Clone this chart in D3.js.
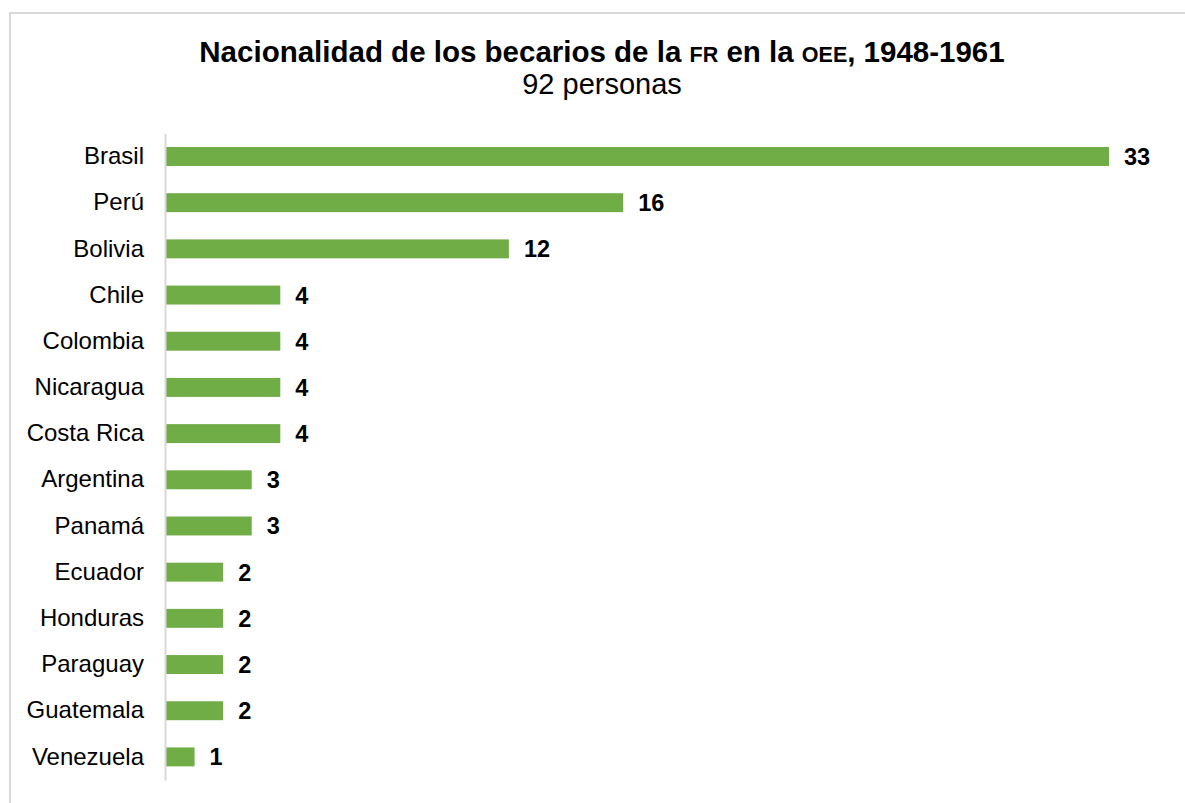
<!DOCTYPE html>
<html>
<head>
<meta charset="utf-8">
<script src="https://cdn.jsdelivr.net/npm/d3@7"></script>
<style>
  body { margin: 0; background: #fff; }
  svg { display: block; font-family: Arial, "Liberation Sans", sans-serif; }
</style>
</head>
<body>
<div id="chart"></div>
<script>
var countries = ['Brasil','Perú','Bolivia','Chile','Colombia','Nicaragua','Costa Rica',
                 'Argentina','Panamá','Ecuador','Honduras','Paraguay','Guatemala','Venezuela'];
var becarios = [33,16,12,4,4,4,4,3,3,2,2,2,2,1];
var subtitle = '92 personas';

var width = 1185, height = 803;
var svg = d3.select('#chart').append('svg')
	.attr('width', width)
	.attr('height', height);

// outer frame (left + top visible)
svg.append('rect').attr('x', 10).attr('y', 13)
	.attr('width', width + 20).attr('height', height + 20)
	.attr('fill', 'none').attr('stroke', '#d9d9d9').attr('stroke-width', 2);

// title
var title = svg.append('text')
	.attr('x', 602).attr('y', 62)
	.attr('text-anchor', 'middle')
	.style('font-weight', 'bold').style('font-size', '29.5px').attr('fill', '#000');
title.append('tspan').text('Nacionalidad de los becarios de la ');
title.append('tspan').style('font-size', '21.5px').text('FR');
title.append('tspan').text(' en la ');
title.append('tspan').style('font-size', '21.5px').text('OEE');
title.append('tspan').text(', 1948-1961');

svg.append('text')
	.attr('x', 602).attr('y', 94)
	.attr('text-anchor', 'middle')
	.style('font-size', '29px').attr('fill', '#000')
	.text(subtitle);

var plotX = 166, plotTop = 133.4, plotBottom = 780;
var x = d3.scaleLinear().domain([0, 33]).range([plotX, 1109]);
var y = d3.scaleBand().domain(countries).range([plotTop, plotBottom]).paddingInner(0.59).paddingOuter(0.295);

var data = countries.map(function(c, i){ return {name: c, value: becarios[i]}; });

svg.selectAll('.bar').data(data).enter().append('rect')
	.attr('class', 'bar')
	.attr('x', x(0))
	.attr('y', function(d){ return y(d.name); })
	.attr('width', function(d){ return x(d.value) - x(0); })
	.attr('height', y.bandwidth())
	.attr('fill', '#70ad47');

svg.selectAll('.val').data(data).enter().append('text')
	.attr('class', 'val')
	.attr('x', function(d){ return x(d.value) + 15; })
	.attr('y', function(d){ return y(d.name) + y.bandwidth()/2; })
	.attr('dy', '0.36em')
	.style('font-weight', 'bold').style('font-size', '23.5px').attr('fill', '#000')
	.text(function(d){ return d.value; });

// category axis
var yAxis = d3.axisLeft(y).tickSize(0).tickPadding(21);
var gAxis = svg.append('g').attr('transform', 'translate(' + (plotX - 1) + ',0)').call(yAxis);
gAxis.select('.domain').attr('stroke', '#d9d9d9').attr('stroke-width', 2);
gAxis.selectAll('text').style('font-size', '24px').style('font-family', 'Arial, "Liberation Sans", sans-serif').attr('fill', '#000');
</script>
</body>
</html>
